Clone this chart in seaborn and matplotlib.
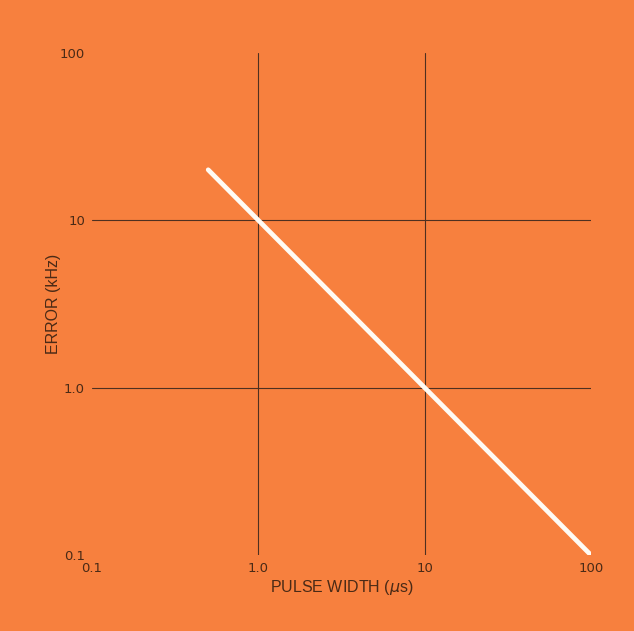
import numpy as np
import pandas as pd
import matplotlib
matplotlib.use("Agg")
import matplotlib.pyplot as plt
import seaborn as sns

# data (log-log, error ~ 10/width)
pulse_width = [0.5, 100]
error_khz = [20, 0.1]

x_ticks = [0.1, 1, 10, 100]
x_tick_labels = ["0.1", "1.0", "10", "100"]
y_ticks = [0.1, 1, 10, 100]
y_tick_labels = ["0.1", "1.0", "10", "100"]
grid_at = [1, 10]

BG = '#F7803E'
INK = '#4A2A16'
GRID = '#4E3020'

sns.set_theme(style="white")
plt.rcParams.update({
    'font.family': ['DejaVu Sans'],
    'axes.facecolor': BG,
    'figure.facecolor': BG,
})

df = pd.DataFrame({'width': pulse_width, 'error': error_khz})

fig = plt.figure(figsize=(6.34, 6.31), dpi=100)
ax = fig.add_axes([0.145, 0.1204, 0.787, 0.796])

ax.set_xscale('log')
ax.set_yscale('log')
ax.set_xlim(0.1, 100)
ax.set_ylim(0.1, 100)

sns.lineplot(data=df, x='width', y='error', ax=ax, color='#FFFBF4',
             linewidth=3.4, solid_capstyle='round', zorder=3)

ax.set_xticks(x_ticks)
ax.set_xticklabels(x_tick_labels)
ax.set_yticks(y_ticks)
ax.set_yticklabels(y_tick_labels)
# grid only at the inner decades: minor ticks that overlap the majors
ax.xaxis.remove_overlapping_locs = False
ax.yaxis.remove_overlapping_locs = False
ax.set_xticks(grid_at, minor=True)
ax.set_yticks(grid_at, minor=True)
ax.xaxis.set_minor_formatter(plt.NullFormatter())
ax.yaxis.set_minor_formatter(plt.NullFormatter())
ax.tick_params(which='both', length=0, colors=INK, labelsize=9.5)
ax.tick_params(axis='x', pad=5)
ax.tick_params(axis='y', pad=5)
ax.grid(False, which='major')
ax.grid(True, which='minor', color=GRID, linewidth=0.8)

for s in ax.spines.values():
    s.set_visible(False)

ax.set_xlabel("PULSE WIDTH ($\\mu$s)", fontsize=11.5, color=INK,
              family='Liberation Sans', labelpad=2)
ax.set_ylabel("ERROR (kHz)", fontsize=11.5, color=INK,
              family='Liberation Sans')
ax.yaxis.set_label_coords(-0.062, 0.5)

fig.savefig("out.png", dpi=100, facecolor=BG)
